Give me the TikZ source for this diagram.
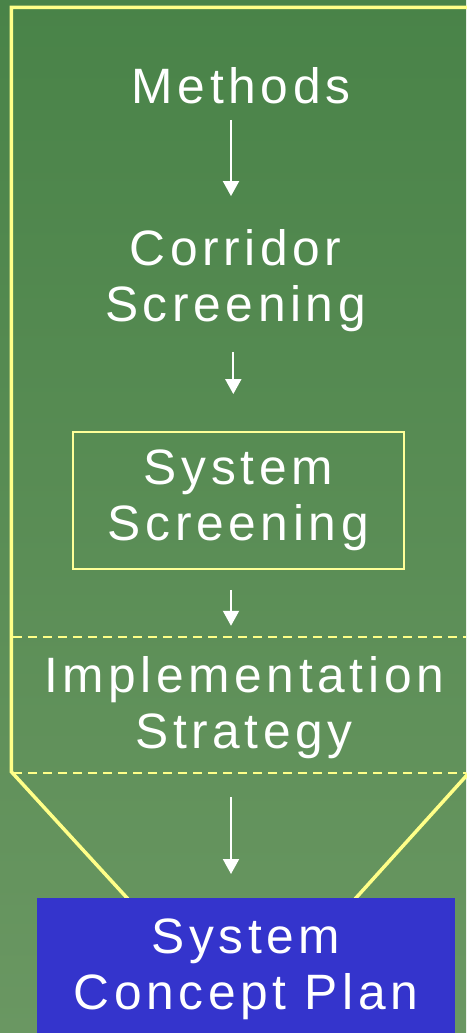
\documentclass[tikz,border=0pt]{standalone}
\usepackage{fontspec}
\setmainfont{Liberation Sans}[LetterSpace=9.3]
\usetikzlibrary{positioning,arrows.meta}

\definecolor{bgtop}{RGB}{73,131,72}
\definecolor{bgbottom}{RGB}{106,151,98}
\definecolor{rimyellow}{RGB}{255,255,136}
\definecolor{boxyellow}{RGB}{255,255,153}
\definecolor{planblue}{RGB}{52,52,204}
\newcommand\stagefont{\fontsize{49.7}{56}\selectfont}

\begin{document}
\begin{tikzpicture}[
x=1pt,y=-1pt,
stage/.style={
  text=white,
  align=center,
  font=\stagefont,
  inner sep=0pt,
  anchor=base
},
flow/.style={
  draw=white,
  line width=2pt,
  -{Triangle[width=16pt,length=15pt]}
},
rim/.style={
  draw=rimyellow,
  line width=3.5pt,
  line join=miter
},
seam/.style={
  draw=rimyellow,
  line width=2pt,
  dash pattern=on 9pt off 6pt
}
]
\useasboundingbox (0,0) rectangle (466,1033);
\shade[top color=bgtop,bottom color=bgbottom] (0,0) rectangle (466,1033);

% funnel outline
\draw[rim] (128,899) -- (11.3,771.7) -- (11.3,7.5) -- (470,7.5) -- (470,771.7) -- (355,899);
\draw[seam] (13,637.3) -- (466,637.3);
\draw[seam] (13,773.3) -- (466,773.3);

\coordinate (spine) at (231,0);

\node[stage] (methods) at (241,103.3)
  {Methods};
\node[stage] (corridor) at (235.5,321.7)
  {Corridor\\Screening};
\node[stage,anchor=center,draw=boxyellow,line width=1.5pt,
  minimum width=331pt,minimum height=137pt] (system) at (238.3,500.3)
  {System\\Screening};
\node[stage] (impl) at (244,748.3)
  {Implementation\\Strategy};
\node[stage,anchor=north,fill=planblue,minimum width=418pt,inner ysep=20.7pt] (plan) at (246,898)
  {System\\Concept Plan};

\draw[flow,shorten <=16pt,shorten >=33.4pt] (methods.south -| spine) -- (corridor.north -| spine);
\draw[flow,shorten <=19.6pt,shorten >=37pt] ([xshift=2.3pt]corridor.south -| spine) -- ([xshift=2.3pt]system.north -| spine);
\draw[flow,shorten <=20.3pt,shorten >=30.3pt] (system.south -| spine) -- (impl.north -| spine);
\draw[flow,shorten <=38pt,shorten >=24pt] (impl.south -| spine) -- (plan.north -| spine);
\end{tikzpicture}
\end{document}
